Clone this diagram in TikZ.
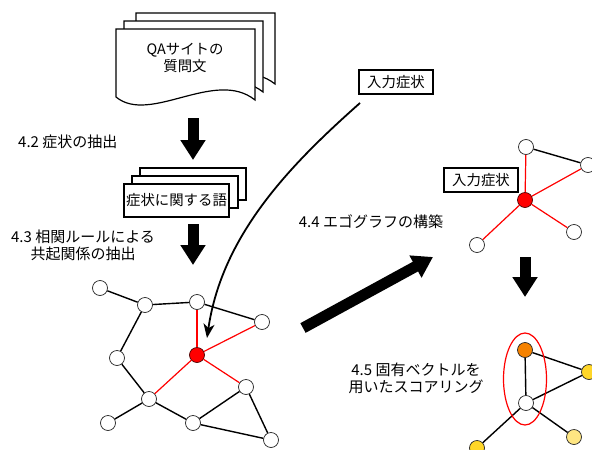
\documentclass[tikz,border=0pt]{standalone}
\usepackage{fontspec}
\setmainfont{Noto Sans CJK JP}
\usetikzlibrary{arrows.meta}
\definecolor{nodeorange}{RGB}{245,130,0}
\definecolor{nodeyellow}{RGB}{255,214,40}
\definecolor{nodelight}{RGB}{255,230,130}
\begin{document}
\begin{tikzpicture}[x=1pt,y=-1pt,
  txt/.style={font=\fontsize{15}{17}\selectfont, align=center, inner sep=0},
  btxt/.style={font=\fontsize{14.4}{17}\selectfont, align=center, inner sep=0},
  lbox/.style={draw, line width=1.3pt, font=\fontsize{14.4}{17}\selectfont, minimum width=74pt, minimum height=24pt, inner sep=0, fill=white},
  gnode/.style={circle, draw=black!85, line width=0.7pt, fill=white, minimum size=15pt, inner sep=0},
  rnode/.style={gnode, fill=red, draw=black!70!red},
  bedge/.style={line width=1.4pt, black},
  redge/.style={line width=1.2pt, red},
  bigarrow/.style={line width=11pt, -{Triangle[width=24pt,length=20pt]}},
  docpage/.pic={\draw[fill=white, line width=1.2pt] (0,0) -- (139,0) -- (139,71) .. controls (99,39) and (34,96) .. (0,68) -- cycle;},
  stackpage/.style={draw, fill=white, line width=1.2pt}
]
\useasboundingbox (0,0) rectangle (592,450);

% document stack
\pic at (136,13) {docpage};
\pic at (124,21) {docpage};
\pic at (116,29) {docpage};
\node[btxt] (qa) at (185,58) {QAサイトの\\質問文};

% arrow 1
\coordinate (a1s) at (193,118);
\coordinate (a1e) at (193,160);
\draw[bigarrow] (a1s) -- (a1e);
\node[txt, anchor=west] (l42) at (18,142) {4.2 症状の抽出};

% stacked word boxes
\draw[stackpage] (140,168) rectangle (246,200);
\draw[stackpage] (132,176) rectangle (238,208);
\node[stackpage, minimum width=105pt, minimum height=33pt, inner sep=0, font=\fontsize{14.4}{17}\selectfont] (words) at (176.5,200.5) {症状に関する語};

% arrow 2
\coordinate (a2s) at (193,224);
\coordinate (a2e) at (193,265);
\draw[bigarrow] (a2s) -- (a2e);
\node[txt] (l43) at (83,245) {4.3 相関ルールによる\\共起関係の抽出};

% graph 1
\node[gnode] (A) at (100,288) {};
\node[gnode] (B) at (145,305) {};
\node[gnode] (C) at (197,302) {};
\node[gnode] (D) at (262,322) {};
\node[rnode] (R) at (197,355) {};
\node[gnode] (E) at (117,358) {};
\node[gnode] (F) at (149,399) {};
\node[gnode] (G) at (246,387) {};
\node[gnode] (H) at (108,423) {};
\node[gnode] (I) at (193,423) {};
\node[gnode] (J) at (271,440) {};
\draw[bedge] (A) -- (B);
\draw[bedge] (B) -- (C);
\draw[bedge] (C) -- (D);
\draw[bedge] (B) -- (E);
\draw[bedge] (E) -- (F);
\draw[bedge] (F) -- (H);
\draw[bedge] (F) -- (I);
\draw[bedge] (I) -- (G);
\draw[bedge] (I) -- (J);
\draw[bedge] (G) -- (J);
\draw[redge] (C) -- (R);
\draw[redge] (R) -- (D);
\draw[redge] (R) -- (F);
\draw[redge] (R) -- (G);

% input symptom box and curved arrow
\node[lbox] (in1) at (396,82) {入力症状};
\coordinate (cs) at (360,103);
\coordinate (ce) at (207,338);
\draw[line width=1.8pt, -{Stealth[length=14pt,width=11pt,inset=4pt]}] (cs) .. controls (290,165) and (222,235) .. (ce);

% diagonal arrow
\coordinate (ds) at (303,328);
\coordinate (de) at (433,257);
\draw[bigarrow] (ds) -- (de);
\node[txt] (l44) at (371,222) {4.4 エゴグラフの構築};

% ego graph
\node[gnode] (T) at (526,147) {};
\node[gnode] (U) at (588,165) {};
\node[rnode] (Rc) at (525,200) {};
\node[gnode] (V) at (574,232) {};
\node[gnode] (W) at (477,245) {};
\draw[bedge] (T) -- (U);
\draw[redge] (Rc) -- (T);
\draw[redge] (Rc) -- (U);
\draw[redge] (Rc) -- (V);
\draw[redge] (Rc) -- (W);
\node[lbox] (in2) at (481,180) {入力症状};

% arrow 3
\coordinate (a3s) at (525,257);
\coordinate (a3e) at (525,297);
\draw[bigarrow] (a3s) -- (a3e);
\node[txt] (l45) at (416,378) {4.5 固有ベクトルを\\用いたスコアリング};

% scored graph
\node[gnode, fill=nodeorange] (O) at (525,350) {};
\node[gnode] (Wc) at (526,403) {};
\node[gnode, fill=nodeyellow] (Y1) at (589,372) {};
\node[gnode, fill=nodelight] (Y2) at (574,437) {};
\node[gnode, fill=nodeyellow] (Y3) at (477,448) {};
\draw[bedge] (O) -- (Wc);
\draw[bedge] (O) -- (Y1);
\draw[bedge] (Wc) -- (Y1);
\draw[bedge] (Wc) -- (Y2);
\draw[bedge] (Wc) -- (Y3);
\draw[red, line width=1.2pt] (525,379) ellipse [x radius=21.5, y radius=46];
\end{tikzpicture}
\end{document}
